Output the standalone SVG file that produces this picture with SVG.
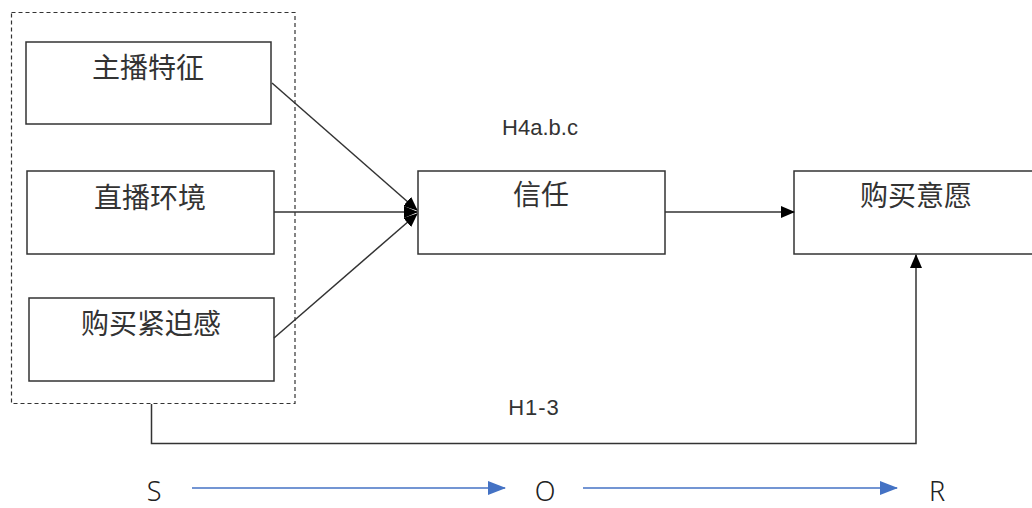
<svg xmlns="http://www.w3.org/2000/svg" width="1032" height="508" viewBox="0 0 1032 508">
<style>
.box{fill:#fff;stroke:#333;stroke-width:1.5}
.cn{font-family:"Liberation Sans","Noto Sans CJK SC",sans-serif;font-size:28px;fill:#333;text-anchor:middle;dominant-baseline:central}
.lbl{font-family:"Liberation Sans",sans-serif;font-size:22px;fill:#333;text-anchor:middle}
.sor{font-family:"Noto Sans","Liberation Sans",sans-serif;font-size:27px;font-weight:300;fill:#222;text-anchor:middle}
.ln{fill:none;stroke:#333;stroke-width:1.5}
.blue{fill:none;stroke:#4472C4;stroke-width:1.5}
</style>
<defs>
<marker id="ah" markerWidth="14" markerHeight="12" refX="13" refY="6" orient="auto" markerUnits="userSpaceOnUse"><path d="M0,0 L14,6 L0,12 Z" fill="#000"/></marker>
<marker id="ahb" markerWidth="18" markerHeight="14" refX="17" refY="7" orient="auto" markerUnits="userSpaceOnUse"><path d="M0,0 L18,7 L0,14 Z" fill="#4472C4"/></marker>
</defs>
<rect x="11.5" y="12.5" width="283.5" height="391" fill="none" stroke="#333" stroke-width="1.2" stroke-dasharray="4,3"/>
<g id="n1"><rect class="box" x="26" y="42" width="245" height="82"/><text class="cn" x="148" y="68">主播特征</text></g>
<g id="n2"><rect class="box" x="27" y="171" width="247" height="83"/><text class="cn" x="150" y="198">直播环境</text></g>
<g id="n3"><rect class="box" x="29" y="298" width="245" height="83"/><text class="cn" x="151" y="324">购买紧迫感</text></g>
<g id="n4"><rect class="box" x="418" y="171" width="247" height="83"/><text class="cn" x="541" y="195">信任</text></g>
<g id="n5"><rect class="box" x="794" y="171" width="250" height="83"/><text class="cn" x="916" y="196">购买意愿</text></g>
<g id="connectors">
<line class="ln" x1="272" y1="83" x2="417" y2="210" marker-end="url(#ah)"/>
<line class="ln" x1="274" y1="212" x2="417" y2="212" marker-end="url(#ah)"/>
<line class="ln" x1="274" y1="338" x2="417" y2="214" marker-end="url(#ah)"/>
<line class="ln" x1="665" y1="212" x2="794" y2="212" marker-end="url(#ah)"/>
<polyline class="ln" points="151.5,404 151.5,443.5 916,443.5 916,255" marker-end="url(#ah)"/>
<line class="blue" x1="192" y1="488" x2="505" y2="488" marker-end="url(#ahb)"/>
<line class="blue" x1="583" y1="488" x2="897" y2="488" marker-end="url(#ahb)"/>
</g>
<text class="lbl" x="540" y="135">H4a.b.c</text>
<text class="lbl" x="534" y="415" style="letter-spacing:1px">H1-3</text>
<text class="sor" x="154" y="501">S</text>
<text class="sor" x="545" y="501">O</text>
<text class="sor" x="937" y="501">R</text>
</svg>
